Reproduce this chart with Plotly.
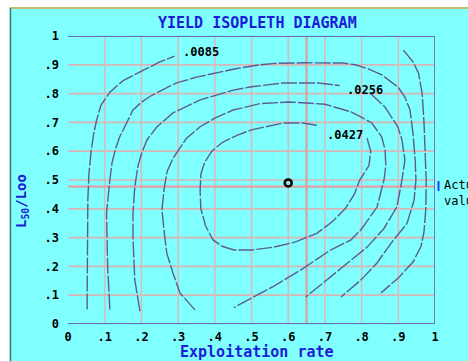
import plotly.graph_objects as go

# ---------------- data ----------------
TICK_VALS = [0, 0.1, 0.2, 0.3, 0.4, 0.5, 0.6, 0.7, 0.8, 0.9, 1]
TICK_TEXT = ["0", ".1", ".2", ".3", ".4", ".5", ".6", ".7", ".8", ".9", "1"]
GRID_VALS = [0.1, 0.2, 0.3, 0.4, 0.5, 0.6, 0.7, 0.8, 0.9]

# contour 1 (.0085)
c1a_x = [0.052, 0.052, 0.053, 0.054, 0.057, 0.063, 0.070, 0.078, 0.090, 0.114, 0.150, 0.205, 0.250, 0.290]
c1a_y = [0.050, 0.200, 0.350, 0.430, 0.520, 0.600, 0.660, 0.708, 0.760, 0.805, 0.845, 0.882, 0.910, 0.930]
c1b_x = [0.914, 0.940, 0.955, 0.965, 0.970, 0.973, 0.976, 0.975, 0.970, 0.962, 0.940, 0.900, 0.853]
c1b_y = [0.951, 0.910, 0.872, 0.800, 0.700, 0.570, 0.500, 0.400, 0.320, 0.270, 0.215, 0.160, 0.108]

# contour 2
c2_x = [0.114, 0.108, 0.105, 0.110, 0.114, 0.120, 0.130, 0.141, 0.160, 0.177, 0.200, 0.223, 0.260,
        0.296, 0.350, 0.406, 0.460, 0.523, 0.564, 0.650, 0.750, 0.783, 0.820, 0.855, 0.899, 0.918,
        0.932, 0.940, 0.946, 0.948, 0.943, 0.924, 0.880, 0.842, 0.800, 0.744]
c2_y = [0.050, 0.200, 0.385, 0.460, 0.500, 0.560, 0.610, 0.650, 0.700, 0.743, 0.770, 0.790, 0.815,
        0.837, 0.857, 0.872, 0.887, 0.900, 0.905, 0.907, 0.906, 0.900, 0.885, 0.865, 0.823, 0.788,
        0.743, 0.663, 0.569, 0.500, 0.430, 0.350, 0.280, 0.212, 0.155, 0.094]

# contour 3 (.0256)
c3a_x = [0.196, 0.182, 0.177, 0.177, 0.182, 0.190, 0.200, 0.215, 0.242, 0.286, 0.360, 0.450, 0.496,
         0.586, 0.682, 0.740]
c3a_y = [0.045, 0.153, 0.300, 0.385, 0.476, 0.545, 0.590, 0.639, 0.684, 0.733, 0.778, 0.812, 0.823,
         0.837, 0.837, 0.828]
c3b_x = [0.823, 0.864, 0.899, 0.910, 0.918, 0.910, 0.896, 0.860, 0.815, 0.730, 0.648]
c3b_y = [0.802, 0.753, 0.684, 0.639, 0.569, 0.500, 0.406, 0.330, 0.267, 0.180, 0.094]

# contour 4
c4_x = [0.346, 0.305, 0.286, 0.269, 0.262, 0.256, 0.262, 0.270, 0.286, 0.323, 0.360, 0.400, 0.450,
        0.523, 0.604, 0.700, 0.773, 0.828, 0.855, 0.864, 0.866, 0.861, 0.842, 0.800, 0.771, 0.713,
        0.635, 0.559, 0.452]
c4_y = [0.049, 0.108, 0.177, 0.247, 0.320, 0.396, 0.470, 0.530, 0.575, 0.645, 0.685, 0.715, 0.743,
        0.765, 0.771, 0.763, 0.736, 0.698, 0.649, 0.604, 0.550, 0.500, 0.406, 0.330, 0.292, 0.255,
        0.188, 0.130, 0.057]

# contour 5 (.0427)
c5_x = [0.815, 0.825, 0.820, 0.795, 0.780, 0.755, 0.720, 0.678, 0.620, 0.561, 0.500, 0.452, 0.420,
        0.395, 0.375, 0.362, 0.360, 0.360, 0.362, 0.372, 0.392, 0.420, 0.460, 0.500, 0.586, 0.640, 0.678]
c5_y = [0.645, 0.600, 0.550, 0.500, 0.450, 0.400, 0.355, 0.315, 0.285, 0.267, 0.257, 0.257, 0.270,
        0.292, 0.340, 0.400, 0.460, 0.500, 0.520, 0.560, 0.600, 0.630, 0.655, 0.674, 0.698, 0.698, 0.690]

SEGMENTS = [(c1a_x, c1a_y), (c1b_x, c1b_y), (c2_x, c2_y), (c3a_x, c3a_y), (c3b_x, c3b_y),
            (c4_x, c4_y), (c5_x, c5_y)]

LABEL_TEXT = [".0085", ".0256", ".0427"]
LABEL_X = [0.362, 0.808, 0.754]
LABEL_Y = [0.944, 0.814, 0.656]

MARK_X = [0.60]
MARK_Y = [0.49]
ACTUAL_X = 0.65
ACTUAL_Y = 0.477

# ---------------- figure ----------------
W, H = 468, 361
ML, MR, MT, MB = 68, 33, 36, 37
PW, PH = W - ML - MR, H - MT - MB


def px(v):
    return (v - ML) / PW


def py(v):
    return (H - MB - v) / PH


CYAN = "#80ffff"
LINE_C = "#5c5c92"
BLUE = "#1c1cd8"
MONO = "DejaVu Sans Mono"

fig = go.Figure()

for sx, sy in SEGMENTS:
    fig.add_trace(go.Scatter(x=sx, y=sy, mode="lines", hoverinfo="skip",
                             line=dict(color=LINE_C, width=1.4, dash="16px,2px")))

fig.add_trace(go.Scatter(x=MARK_X, y=MARK_Y, mode="markers", hoverinfo="skip",
                         marker=dict(symbol="circle-open", size=7, color="black",
                                     line=dict(width=2.5, color="black"))))

shapes = []
for g in GRID_VALS:
    shapes.append(dict(type="line", xref="x", yref="y", x0=g, x1=g, y0=0, y1=1,
                       line=dict(color="#cfc0c0", width=1.7), layer="below"))
    shapes.append(dict(type="line", xref="x", yref="y", x0=0, x1=1, y0=g, y1=g,
                       line=dict(color="#d8b6b6", width=1.7), layer="below"))
# actual-value crosshair
shapes.append(dict(type="line", xref="x", yref="y", x0=ACTUAL_X, x1=ACTUAL_X, y0=0, y1=1,
                   line=dict(color="#d6a6a6", width=2.4), layer="below"))
shapes.append(dict(type="line", xref="x", yref="y", x0=0, x1=1, y0=ACTUAL_Y, y1=ACTUAL_Y,
                   line=dict(color="#e4a0a0", width=2.2), layer="below"))
# frame lines (top, right, bottom)
for (x0, x1, y0, y1) in [(0, 1, 1, 1), (1, 1, 0, 1), (0, 1, 0, 0)]:
    shapes.append(dict(type="line", xref="x", yref="y", x0=x0, x1=x1, y0=y0, y1=y1,
                       line=dict(color="#6c6cb8", width=1.8)))
# blue marker at right for actual value
shapes.append(dict(type="line", xref="paper", yref="paper", x0=px(438.5), x1=px(438.5),
                   y0=py(191), y1=py(181), line=dict(color="#2040ff", width=2)))
# screenshot frame
shapes.append(dict(type="rect", xref="paper", yref="paper", x0=px(-2), x1=px(W + 2),
                   y0=py(7.5), y1=py(-2), fillcolor="white", line=dict(width=0)))
shapes.append(dict(type="rect", xref="paper", yref="paper", x0=px(-2), x1=px(9.5),
                   y0=py(H + 2), y1=py(-2), fillcolor="white", line=dict(width=0)))
shapes.append(dict(type="line", xref="paper", yref="paper", x0=px(10), x1=px(W + 2),
                   y0=py(8), y1=py(8), line=dict(color="#c4bc74", width=2)))
shapes.append(dict(type="line", xref="paper", yref="paper", x0=px(10.5), x1=px(10.5),
                   y0=py(H + 2), y1=py(8), line=dict(color="#3c7c7c", width=1.5)))

annotations = []
for t, lx, ly in zip(LABEL_TEXT, LABEL_X, LABEL_Y):
    annotations.append(dict(x=lx, y=ly, xref="x", yref="y", text=t, showarrow=False,
                            xanchor="center", yanchor="middle",
                            font=dict(family=MONO, size=12, color="black", weight="bold")))
annotations.append(dict(x=px(257), y=py(23), xref="paper", yref="paper",
                        text="YIELD ISOPLETH DIAGRAM", showarrow=False,
                        xanchor="center", yanchor="middle",
                        font=dict(family=MONO, size=15, color=BLUE, weight="bold")))
annotations.append(dict(x=px(257), y=py(352), xref="paper", yref="paper",
                        text="Exploitation rate", showarrow=False,
                        xanchor="center", yanchor="middle",
                        font=dict(family=MONO, size=15, color=BLUE, weight="bold")))
annotations.append(dict(x=px(22), y=py(201), xref="paper", yref="paper",
                        text="L<sub>50</sub>/Loo", showarrow=False, textangle=-90,
                        xanchor="center", yanchor="middle",
                        font=dict(family=MONO, size=14, color=BLUE, weight="bold")))
annotations.append(dict(x=px(442), y=py(176), xref="paper", yref="paper",
                        text="Actual<br>values", showarrow=False, align="left",
                        xanchor="left", yanchor="top",
                        font=dict(family=MONO, size=12, color="black")))

axis_common = dict(range=[0, 1], tickvals=TICK_VALS, ticktext=TICK_TEXT, showgrid=False,
                   zeroline=False, showline=False, ticks="",
                   tickfont=dict(family=MONO, size=12, color="black", weight="bold"))

fig.update_layout(
    width=W, height=H, margin=dict(l=ML, r=MR, t=MT, b=MB, pad=0),
    paper_bgcolor=CYAN, plot_bgcolor=CYAN, showlegend=False,
    xaxis=dict(**axis_common, ticklabelstandoff=4),
    yaxis=dict(**axis_common, ticklabelstandoff=8),
    shapes=shapes, annotations=annotations,
)

fig.write_html("out.html")
